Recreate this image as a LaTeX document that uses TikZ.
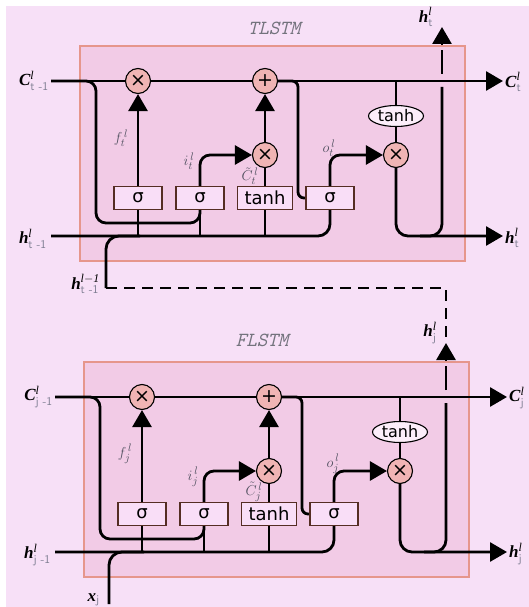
\documentclass[tikz,border=0pt]{standalone}
\usepackage{fontspec}
\usepackage{amsmath}
\setmainfont{Liberation Serif}
\newfontfamily\dvs{DejaVu Sans}
\usetikzlibrary{arrows.meta,shapes.geometric}
\definecolor{bgpink}{RGB}{247,224,247}
\definecolor{boxpink}{RGB}{242,203,230}
\definecolor{boxedge}{RGB}{230,150,140}
\definecolor{opfill}{RGB}{240,180,180}
\definecolor{gatefill}{RGB}{249,222,247}
\definecolor{gateedge}{RGB}{85,45,35}
\definecolor{ellfill}{RGB}{252,238,250}
\definecolor{subgray}{RGB}{125,125,145}
\definecolor{lblgray}{RGB}{80,80,95}
\definecolor{titlegray}{RGB}{115,115,125}
\pgfdeclarelayer{back}
\pgfdeclarelayer{wires}
\pgfsetlayers{back,wires,main}
\tikzset{
  wire/.style={line width=2.8pt},
  arr/.style={wire,-{Triangle[length=17pt,width=19pt]}},
  dashline/.style={line width=2.5pt,dash pattern=on 11pt off 7pt},
  cellbox/.style={rectangle,draw=boxedge,line width=2pt,fill=boxpink,inner sep=0pt},
  op/.style={circle,draw=black,line width=1.1pt,fill=opfill,minimum size=25pt,inner sep=0pt,font=\dvs\fontsize{19}{19}\selectfont},
  gate/.style={rectangle,draw=gateedge,line width=1.1pt,fill=gatefill,minimum width=48pt,minimum height=23pt,inner sep=0pt,font=\dvs\fontsize{18}{18}\selectfont},
  ell/.style={ellipse,draw=black,line width=1.1pt,fill=ellfill,minimum width=55pt,minimum height=21pt,inner sep=0pt,font=\dvs\fontsize{16}{16}\selectfont},
  lbl/.style={inner sep=0pt,font=\fontsize{17}{17}\selectfont},
  glbl/.style={inner sep=0pt,text=lblgray,font=\fontsize{15}{15}\selectfont},
  ttl/.style={inner sep=0pt,text=titlegray,font=\ttfamily\itshape\fontsize{20}{20}\selectfont}
}
\newcommand\vlab[3]{{\bfseries\itshape #1}$^{\mathit{#2}}_{\text{\color{subgray}\sffamily #3}}$}
\newcommand\glab[3]{$#1^{\,#2}_{#3}$}
\newcommand\lstmcell[3]{%
  \begin{pgfonlayer}{back}
    \node[cellbox,minimum width=385pt,minimum height=215pt] (#1box) at (272.5,153.5) {};
  \end{pgfonlayer}
  \node[op] (#1mf) at (138,81) {×};
  \node[op] (#1ad) at (265,81) {+};
  \node[op] (#1mi) at (265,155) {×};
  \node[op] (#1mo) at (396,155) {×};
  \node[gate] (#1sf) at (138,198) {σ};
  \node[gate] (#1si) at (200,198) {σ};
  \node[gate,minimum width=55pt] (#1tc) at (265,198) {tanh};
  \node[gate] (#1so) at (330,198) {σ};
  \node[ell] (#1th) at (396,116) {tanh};
  \coordinate (#1cin) at (51,81);
  \coordinate (#1cout) at (503,81);
  \coordinate (#1hin) at (51,236);
  \coordinate (#1hout) at (503,236);
  \coordinate (#1pk) at (96,223);
  \coordinate (#1pd) at (298,198);
  \coordinate (#1ue) at (420,236);
  \coordinate (#1ua) at (442,87);
  \coordinate (#1ub) at (442,74);
  \coordinate (#1uc) at (442,50);
  \coordinate (#1ud) at (442,45);
  \coordinate (#1up) at (442,27);
  \begin{pgfonlayer}{wires}
    \draw[arr] (#1cin) -- (#1cout);
    \draw[wire,rounded corners=10pt] (#1cin) -| (#1pk) -| (#1si.south);
    \draw[wire,rounded corners=12pt] (#1hin) -| (#1so.south);
    \draw[wire] (#1sf.south) -- (#1sf.south |- #1hin);
    \draw[wire] (#1si.south) -- (#1si.south |- #1hin);
    \draw[wire] (#1tc.south) -- (#1tc.south |- #1hin);
    \draw[arr] (#1sf) -- (#1mf);
    \draw[arr,rounded corners=10pt] (#1si.north) |- (#1mi.west);
    \draw[wire] (#1tc) -- (#1mi);
    \draw[arr] (#1mi) -- (#1ad);
    \draw[wire,rounded corners=6pt] (#1ad.east) -| (#1pd) -- (#1so.west);
    \draw[arr,rounded corners=10pt] (#1so.north) |- (#1mo.west);
    \draw[wire] (#1th.north |- #1cin) -- (#1th);
    \draw[wire] (#1th) -- (#1mo);
    \draw[arr,rounded corners=12pt] (#1mo.south) |- (#1hout);
    \draw[wire,rounded corners=12pt] (#1ue) -| (#1ua);
    \draw[wire] (#1ub) -- (#1uc);
    \draw[arr] (#1ud) -- (#1up);
  \end{pgfonlayer}
  \node[lbl,anchor=east] (#1lcin) at (49,81) {\vlab{C}{l}{#3}};
  \node[lbl,anchor=east] (#1lhin) at (47,239) {\vlab{h}{l}{#3}};
  \node[lbl,anchor=west] (#1lcout) at (505,82) {\vlab{C}{l}{#2}};
  \node[lbl,anchor=west] (#1lhout) at (505,238) {\vlab{h}{l}{#2}};
  \node[lbl] (#1lhup) at (426,17) {\vlab{h}{l}{#2}};
  \node[glbl] (#1lf) at (121,138) {\glab{f}{l}{#2}};
  \node[glbl] (#1li) at (189,161) {\glab{i}{l}{#2}};
  \node[glbl] (#1lc) at (250,176) {\glab{\tilde{C}}{l}{#2}};
  \node[glbl] (#1lo) at (329,148) {\glab{o}{l}{#2}};
}
\begin{document}
\begin{tikzpicture}[x=1pt,y=-1pt]
  \useasboundingbox (0,0) rectangle (529,607);
  \begin{pgfonlayer}{back}
    \fill[white] (0,0) rectangle (529,607);
    \fill[bgpink] (6,6) rectangle (529,607);
  \end{pgfonlayer}
  % top cell
  \lstmcell{T}{t}{t -1}
  \node[ttl] (ttitle) at (274,28) {TLSTM};
  % bottom cell
  \begin{scope}[shift={(4,316)}]
    \lstmcell{F}{j}{j -1}
    \coordinate (xin) at (105,288);
    \coordinate (xj) at (140,236);
    \begin{pgfonlayer}{wires}
      \draw[wire,rounded corners=13pt] (xin) |- (xj);
    \end{pgfonlayer}
    \node[lbl,anchor=east] (xlbl) at (96,284) {{\bfseries\itshape x}$_{\text{\color{subgray}\sffamily j}}$};
  \end{scope}
  \node[ttl] (ftitle) at (262,340) {FLSTM};
  % inter-layer connection
  \coordinate (hprev) at (106,288);
  \coordinate (hjoin) at (140,236);
  \begin{pgfonlayer}{wires}
    \draw[wire,rounded corners=13pt] (hprev) |- (hjoin);
    \draw[dashline] (hprev) -| (Fup);
  \end{pgfonlayer}
  \node[lbl,anchor=east] (hprevlbl) at (100,284) {\vlab{h}{l -1}{t -1}};
\end{tikzpicture}
\end{document}
